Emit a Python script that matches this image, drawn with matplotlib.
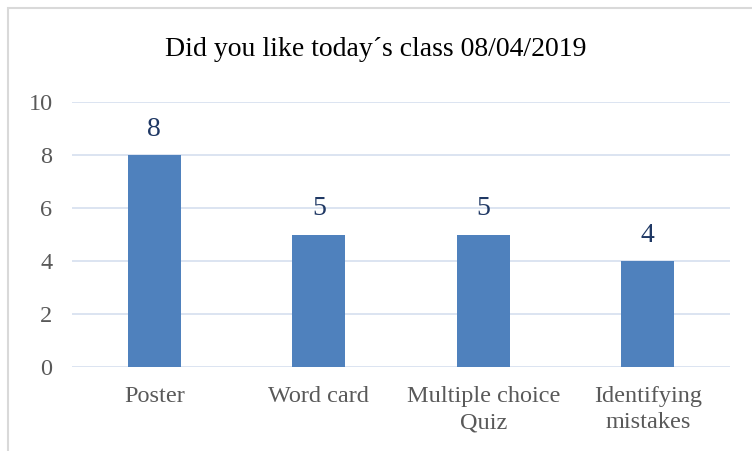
import matplotlib
matplotlib.use('Agg')
import matplotlib.pyplot as plt
from matplotlib.patches import Rectangle

'''
    Data read from the reference chart
'''
categories = ['Poster', 'Word card', 'Multiple choice\nQuiz', 'Identifying\nmistakes']
votes = [8, 5, 5, 4]
y_ticks = [0, 2, 4, 6, 8, 10]
title = 'Did you like today\u00b4s class 08/04/2019'

plt.rcParams['font.family'] = ['Liberation Serif', 'DejaVu Serif']

W, H = 752, 451
fig = plt.figure(figsize=(W / 100, H / 100), dpi=100)
ax = fig.add_axes([72 / W, 1 - 367 / H, (730 - 72) / W, (367 - 102) / H])

x = range(len(categories))
ax.bar(x, votes, width=0.32, color='#4F81BD', zorder=3)
for xi, v in zip(x, votes):
    ax.text(xi, v + 0.5, str(v), ha='center', va='bottom', fontsize=20, color='#1F3864')

ax.set_xlim(-0.5, len(categories) - 0.5)
ax.set_ylim(0, 10)
ax.set_yticks(y_ticks)
ax.set_xticks(list(x))
ax.set_xticklabels(categories, fontsize=17.5, color='#595959', linespacing=1.3)
ax.tick_params(axis='y', labelsize=17.5, labelcolor='#595959', length=0, pad=14)
ax.tick_params(axis='x', length=0, pad=14)
ax.grid(axis='y', color='#D9E2F0', linewidth=1.3, zorder=0)
for s in ax.spines.values():
    s.set_visible(False)

fig.text(0.5, 1 - 49 / H, title, ha='center', va='center', fontsize=20, color='#000000')

# light frame that runs off the right and bottom edges
fig.patches.append(Rectangle((8 / W, -0.1), 1.0, 1.1 - 8 / H, transform=fig.transFigure,
                             fill=False, edgecolor='#D9D9D9', linewidth=1.5))

fig.savefig('out.png', dpi=100)
